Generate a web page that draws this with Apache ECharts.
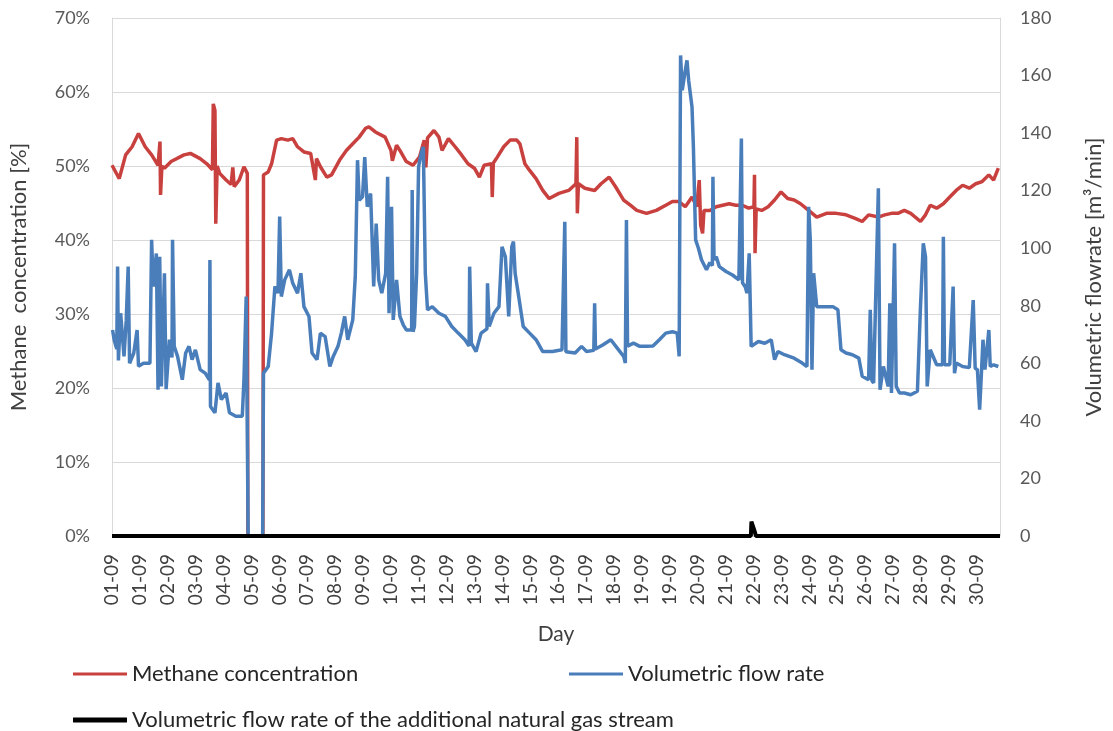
<!DOCTYPE html>
<html>
<head>
<meta charset="utf-8">
<script src="https://cdn.jsdelivr.net/npm/echarts@6/dist/echarts.min.js"></script>
<style>html,body{margin:0;padding:0;background:#fff}#c{width:1113px;height:731px}</style>
</head>
<body>
<div id="c"></div>
<script>
// Tick labels on the day axis (one every label step)
const dayLabels = ['01-09','01-09','02-09','03-09','04-09','05-09','06-09','07-09','08-09','09-09',
  '10-09','11-09','12-09','13-09','14-09','15-09','16-09','17-09','18-09','19-09','19-09',
  '20-09','21-09','22-09','23-09','24-09','25-09','26-09','27-09','28-09','29-09','30-09'];

// Methane concentration [%]  as [position in label steps, value]
const methane = [
  [0.00,50.1],[0.26,48.3],[0.49,51.5],[0.72,52.6],[0.95,54.4],[1.19,52.6],[1.42,51.5],[1.65,50.1],
  [1.72,53.3],[1.74,46.1],[1.79,50.0],[1.88,49.7],[2.12,50.6],[2.58,51.5],[2.81,51.7],[3.16,51.0],
  [3.40,50.3],[3.60,49.5],[3.63,58.4],[3.69,57.5],[3.72,42.2],[3.77,50.0],[3.86,49.0],[4.09,48.1],
  [4.27,47.5],[4.33,49.8],[4.38,47.2],[4.56,48.1],[4.73,49.9],[4.85,49.0],[4.87,0],[5.41,0],
  [5.43,48.8],[5.60,49.2],[5.72,50.3],[5.90,53.5],[6.07,53.7],[6.30,53.5],[6.48,53.7],[6.65,52.6],
  [6.88,51.9],[7.12,51.7],[7.29,48.1],[7.33,51.0],[7.47,49.9],[7.70,48.5],[7.87,48.8],[8.16,50.8],
  [8.40,52.1],[8.63,53.0],[8.86,53.9],[9.09,55.1],[9.21,55.3],[9.44,54.6],[9.79,53.9],[10.00,52.1],
  [10.05,50.7],[10.20,52.8],[10.32,52.1],[10.55,50.6],[10.79,50.1],[11.02,51.2],[11.19,53.5],
  [11.25,49.8],[11.31,53.8],[11.54,54.8],[11.72,53.9],[11.83,52.1],[12.06,53.7],[12.30,52.6],
  [12.53,51.5],[12.76,50.3],[12.99,49.7],[13.17,48.5],[13.34,50.1],[13.60,50.3],[13.63,45.8],
  [13.67,50.4],[13.81,51.2],[14.04,52.6],[14.27,53.5],[14.51,53.5],[14.62,53.0],[14.80,50.3],
  [14.97,49.4],[15.20,48.3],[15.44,46.7],[15.67,45.6],[16.02,46.3],[16.37,46.7],[16.63,47.6],
  [16.66,53.9],[16.68,43.6],[16.72,47.6],[16.95,47.0],[17.30,46.7],[17.53,47.6],[17.82,48.5],
  [18.05,47.2],[18.34,45.4],[18.58,44.7],[18.81,44.0],[19.16,43.6],[19.51,44.0],[19.85,44.7],
  [20.09,45.2],[20.32,45.2],[20.55,44.5],[20.79,45.8],[20.96,44.5],[21.05,48.1],[21.10,42.0],
  [21.17,40.9],[21.22,44.0],[21.43,44.0],[21.66,44.5],[21.89,44.7],[22.12,44.9],[22.36,44.7],
  [22.59,44.7],[22.82,44.3],[23.01,44.5],[23.03,48.8],[23.05,38.2],[23.09,44.2],[23.29,44.0],
  [23.52,44.5],[23.75,45.4],[23.98,46.5],[24.22,45.6],[24.45,45.4],[24.68,44.9],[24.97,44.0],
  [25.26,43.1],[25.61,43.6],[25.96,43.6],[26.31,43.4],[26.66,42.9],[26.89,42.5],[27.12,43.4],
  [27.47,43.1],[27.70,43.4],[27.94,43.6],[28.17,43.6],[28.40,44.0],[28.63,43.6],[28.98,42.5],
  [29.16,43.4],[29.33,44.7],[29.56,44.3],[29.80,44.9],[30.03,45.8],[30.26,46.7],[30.49,47.4],
  [30.73,47.0],[30.96,47.6],[31.19,47.9],[31.43,48.8],[31.60,48.1],[31.77,49.7]
];

// Volumetric flow rate [m3/min]
const flow = [
  [0.02,71.6],[0.08,68],[0.17,65],[0.20,93.6],[0.23,61],[0.31,77.4],[0.43,62.4],[0.51,75],
  [0.58,93.6],[0.63,60],[0.78,63.6],[0.90,71.6],[0.95,59],[1.13,60],[1.36,60],[1.42,102.9],
  [1.48,86.7],[1.59,98.2],[1.65,50.8],[1.71,97],[1.77,52],[1.88,91.3],[1.94,51],[2.06,68.2],
  [2.15,62],[2.17,102.9],[2.23,65.9],[2.35,62.4],[2.52,54.3],[2.64,63.6],[2.76,65.9],[2.87,61.3],
  [2.99,64.7],[3.16,57.8],[3.34,56.6],[3.49,54.3],[3.51,95.9],[3.53,45],[3.69,42.8],[3.80,53.2],
  [3.92,47.4],[4.09,49.7],[4.21,42.8],[4.44,41.6],[4.67,41.6],[4.73,54.3],[4.81,83.2],[4.86,83.2],
  [4.88,0],[5.40,0],[5.43,56.6],[5.60,58.9],[5.72,70.5],[5.84,86.7],[5.95,84.4],[6.01,111],
  [6.07,83.2],[6.19,89],[6.36,92.5],[6.48,87.8],[6.65,84.4],[6.77,91.3],[6.88,79.7],[7.06,76.3],
  [7.17,63.6],[7.35,61.3],[7.47,70.5],[7.64,69.3],[7.81,58.9],[7.93,62.4],[8.10,65.9],[8.22,70.5],
  [8.34,76.3],[8.45,68.2],[8.63,75.1],[8.72,90.1],[8.80,130.6],[8.86,116.7],[8.98,117.9],
  [9.06,131.7],[9.15,114.4],[9.27,119],[9.38,86.7],[9.47,108.6],[9.56,89],[9.67,84.4],[9.81,91.3],
  [9.88,124.8],[9.93,77.4],[10.02,114.4],[10.08,75.1],[10.20,89],[10.32,76.3],[10.44,73.4],
  [10.55,71.6],[10.74,71.6],[10.76,120.2],[10.79,71],[10.84,72.8],[10.92,91.3],[10.99,128.3],
  [11.08,132.9],[11.16,135.2],[11.23,91.3],[11.31,78.6],[11.48,79.7],[11.72,77.4],[11.95,76.3],
  [12.18,72.8],[12.41,70.5],[12.65,68.2],[12.80,66],[12.82,93.6],[12.88,67],[13.05,64.1],
  [13.23,70.5],[13.44,72],[13.46,87.8],[13.52,72.8],[13.69,77.4],[13.87,79.7],[13.98,100.5],
  [14.10,97],[14.22,76.3],[14.33,100.5],[14.39,102.3],[14.45,91.3],[14.56,84.4],[14.74,72.8],
  [14.97,70.5],[15.20,68.2],[15.44,64.1],[15.79,64.1],[16.13,64.7],[16.20,64.5],[16.23,109.2],
  [16.27,64],[16.60,63.6],[16.83,65.9],[17.01,64.1],[17.27,64.5],[17.30,80.9],[17.33,65],
  [17.59,66.4],[17.88,68.2],[18.11,65.3],[18.34,62.4],[18.40,60.1],[18.44,109.8],[18.48,66],
  [18.69,67],[18.92,65.9],[19.16,65.9],[19.39,66],[19.62,68.2],[19.85,70.5],[20.09,71],
  [20.26,70.5],[20.33,62.4],[20.38,167],[20.44,154.9],[20.53,160.6],[20.61,165.3],[20.67,158.3],
  [20.79,149.1],[20.84,135.2],[20.92,102.9],[21.02,100],[21.13,96],[21.31,92.5],[21.43,95],
  [21.52,94],[21.54,124.8],[21.58,96],[21.66,97],[21.77,93.6],[22.01,91.9],[22.24,90.7],
  [22.47,89],[22.54,88.5],[22.56,138.1],[22.60,88],[22.70,86.5],[22.76,84.4],[22.84,98.2],
  [22.91,65.9],[23.17,67.6],[23.40,67],[23.63,68.2],[23.75,61.3],[23.87,64.1],[24.10,63],
  [24.45,61.8],[24.74,60.1],[24.91,58.9],[24.97,114.4],[25.03,102.9],[25.09,57.8],[25.15,91.3],
  [25.26,79.7],[25.49,79.7],[25.84,79.7],[26.02,78.6],[26.13,64.7],[26.31,63.6],[26.54,63],
  [26.77,61.8],[26.89,55.5],[27.12,54.3],[27.18,78.6],[27.24,54],[27.30,53.2],[27.47,120.8],
  [27.53,50.8],[27.65,58.9],[27.82,52],[27.88,80.9],[27.94,49.7],[28.05,101.7],[28.11,52],
  [28.23,49.7],[28.40,49.7],[28.63,49.1],[28.87,50.3],[28.98,79.7],[29.08,101.7],[29.16,97],
  [29.22,52],[29.33,64.7],[29.56,59.5],[29.77,59.5],[29.80,104],[29.84,59.5],[30.03,59.5],
  [30.15,86.7],[30.20,56.6],[30.26,60.1],[30.49,58.9],[30.73,58.5],[30.87,82],[30.94,58.3],
  [31.02,57.8],[31.10,43.9],[31.17,57.8],[31.22,68.2],[31.29,57.8],[31.43,71.6],[31.48,58.9],
  [31.60,59.5],[31.77,58.9]
];

// Volumetric flow rate of the additional natural gas stream [m3/min]
const gas = [[0,0],[22.90,0],[22.92,5],[22.98,5],[23.04,1.5],[23.08,0],[31.83,0]];

const xMax = 31.83;
const FONT = 'Lato, "Open Sans", sans-serif';

const chart = echarts.init(document.getElementById('c'), null, {renderer: 'canvas'});
chart.setOption({
  animation: false,
  backgroundColor: '#ffffff',
  grid: {left: 104, right: 96, top: 18, bottom: 195, containLabel: false},
  legend: [
    {data: ['Methane concentration'], left: 68, top: 658, icon: 'rect', itemWidth: 54, itemHeight: 3,
     textStyle: {fontFamily: FONT, fontSize: 22, color: '#262626'}},
    {data: ['Volumetric flow rate'], left: 564, top: 658, icon: 'rect', itemWidth: 54, itemHeight: 3,
     textStyle: {fontFamily: FONT, fontSize: 22, color: '#262626'}},
    {data: ['Volumetric flow rate of the additional natural gas stream'], left: 68, top: 704, icon: 'rect',
     itemWidth: 54, itemHeight: 5, textStyle: {fontFamily: FONT, fontSize: 22, color: '#262626'}}
  ],
  xAxis: {
    type: 'value', min: 0, max: xMax, interval: 1,
    name: 'Day', nameLocation: 'middle', nameGap: 88,
    nameTextStyle: {fontFamily: FONT, fontSize: 21, color: '#404040'},
    axisLine: {show: false}, axisTick: {show: false}, splitLine: {show: false},
    axisLabel: {
      rotate: 90, margin: 18, fontFamily: FONT, fontSize: 19, color: '#404040',
      showMaxLabel: false,
      formatter: function (v) {
        const i = Math.round(v);
        return Math.abs(v - i) < 1e-6 && dayLabels[i] ? dayLabels[i] : '';
      }
    }
  },
  yAxis: [
    {
      type: 'value', min: 0, max: 70, interval: 10, position: 'left',
      name: 'Methane  concentration [%]', nameLocation: 'middle', nameGap: 82,
      nameTextStyle: {fontFamily: FONT, fontSize: 22, color: '#404040'},
      axisLine: {show: true, lineStyle: {color: '#d9d9d9', width: 1}},
      axisTick: {show: false},
      splitLine: {show: true, lineStyle: {color: '#d9d9d9', width: 1}},
      axisLabel: {formatter: '{value}%', margin: 22, fontFamily: FONT, fontSize: 18, color: '#595959'}
    },
    {
      type: 'value', min: 0, max: 180, interval: 20, position: 'right',
      name: 'Volumetric flowrate [m³/min]', nameLocation: 'middle', nameGap: 83,
      nameTextStyle: {fontFamily: FONT, fontSize: 22, color: '#404040'},
      axisLine: {show: true, lineStyle: {color: '#d9d9d9', width: 1}},
      axisTick: {show: false},
      splitLine: {show: false},
      axisLabel: {margin: 20, fontFamily: FONT, fontSize: 18, color: '#595959'}
    }
  ],
  series: [
    {name: 'Methane concentration', type: 'line', yAxisIndex: 0, data: methane, showSymbol: false,
     lineStyle: {color: '#C8413F', width: 3.5}, itemStyle: {color: '#C8413F'}, z: 2},
    {name: 'Volumetric flow rate', type: 'line', yAxisIndex: 1, data: flow, showSymbol: false,
     lineStyle: {color: '#4A7EBB', width: 3.5}, itemStyle: {color: '#4A7EBB'}, z: 3},
    {name: 'Volumetric flow rate of the additional natural gas stream', type: 'line', yAxisIndex: 1,
     data: gas, showSymbol: false, clip: false,
     lineStyle: {color: '#000000', width: 4}, itemStyle: {color: '#000000'}, z: 4}
  ]
});
</script>
</body>
</html>
